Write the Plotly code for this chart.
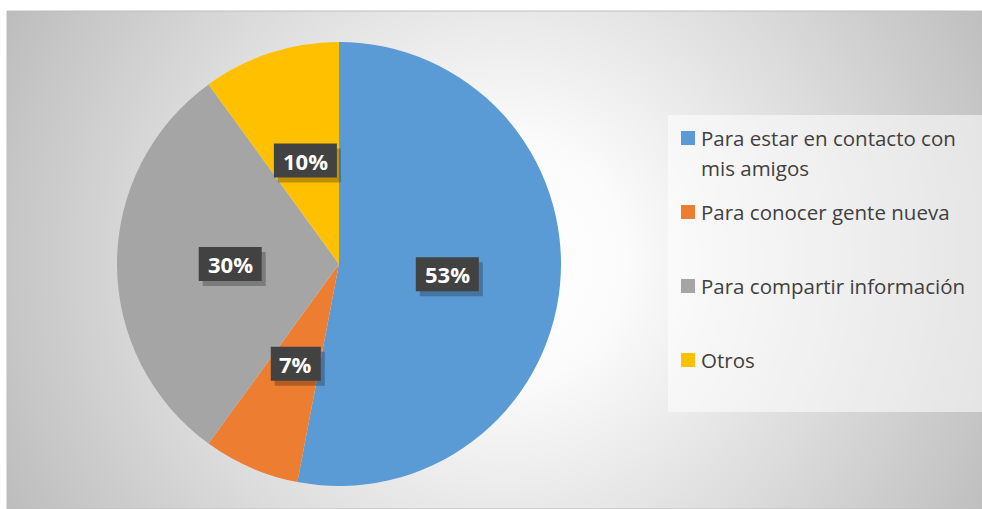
import base64
import math
import textwrap
import plotly.graph_objects as go

categories = ["Para estar en contacto con mis amigos", "Para conocer gente nueva",
              "Para compartir información", "Otros"]
values = [53, 7, 30, 10]
colors = ["#5B9BD5", "#ED7D31", "#A5A5A5", "#FFC000"]

W, H = 982, 509

# radial gradient background as SVG data uri
svg = f'''<svg xmlns="http://www.w3.org/2000/svg" width="{W}" height="{H}" viewBox="0 0 {W} {H}">
<defs><radialGradient id="g" gradientUnits="userSpaceOnUse" cx="500" cy="255" r="560">
<stop offset="0" stop-color="#ffffff"/><stop offset="0.22" stop-color="#fbfbfb"/>
<stop offset="1" stop-color="#bdbdbd"/></radialGradient></defs>
<rect x="0" y="0" width="{W}" height="{H}" fill="url(#g)"/></svg>'''
src = "data:image/svg+xml;base64," + base64.b64encode(svg.encode()).decode()

dom_x = [117 / W, 561 / W]
dom_y = [1 - 486 / H, 1 - 42 / H]

fig = go.Figure(go.Pie(
    labels=categories, values=values, sort=False, direction="clockwise", rotation=0,
    marker=dict(colors=colors, line=dict(width=0)),
    textinfo="none", hoverinfo="label+percent", showlegend=False,
    domain=dict(x=dom_x, y=dom_y),
))

# geometry of pie in pixels
cx = (dom_x[0] + dom_x[1]) / 2 * W
cy = (1 - (dom_y[0] + dom_y[1]) / 2) * H
r = min((dom_x[1] - dom_x[0]) * W, (dom_y[1] - dom_y[0]) * H) / 2
total = sum(values)

shapes = [
    dict(type="rect", xref="paper", yref="paper", x0=7 / W, x1=1, y0=0, y1=1 - 11 / H,
         line=dict(color="#bdbdbd", width=1), fillcolor="rgba(0,0,0,0)", layer="below"),
    dict(type="rect", xref="paper", yref="paper", x0=668 / W, x1=1, y0=1 - 412 / H, y1=1 - 115 / H,
         line=dict(width=0), fillcolor="rgba(255,255,255,0.55)", layer="below"),
]
annotations = []

cum = 0
for v in values:
    mid = (cum + v / 2) / total
    cum += v
    th = 2 * math.pi * mid
    d = 0.49 * r
    px = cx + d * math.sin(th)
    py = cy - d * math.cos(th)
    x, y = px / W, 1 - py / H
    t = f"{round(v / total * 100)}%"
    bw = 13 * len(t) + 24
    bh = 34
    # shadow
    shapes.append(dict(type="rect", xref="paper", yref="paper", xsizemode="pixel", ysizemode="pixel",
                       xanchor=x, yanchor=y, x0=-bw / 2 + 4, x1=bw / 2 + 4, y0=-bh / 2 - 5, y1=bh / 2 - 5,
                       line=dict(width=0), fillcolor="rgba(0,0,0,0.25)"))
    # box
    shapes.append(dict(type="rect", xref="paper", yref="paper", xsizemode="pixel", ysizemode="pixel",
                       xanchor=x, yanchor=y, x0=-bw / 2, x1=bw / 2, y0=-bh / 2, y1=bh / 2,
                       line=dict(width=0), fillcolor="#424242"))
    annotations.append(dict(x=x, y=y, xref="paper", yref="paper", text=f"<b>{t}</b>",
                            xanchor="center", yanchor="middle",
                            showarrow=False, font=dict(family="Open Sans", size=22, color="white")))

# custom legend
item_y = [138, 212, 286, 360]
for cat, col, iy in zip(categories, colors, item_y):
    shapes.append(dict(type="rect", xref="paper", yref="paper",
                       x0=681 / W, x1=695 / W, y0=1 - (iy + 7) / H, y1=1 - (iy - 7) / H,
                       line=dict(width=0), fillcolor=col))
    for k, line in enumerate(textwrap.wrap(cat, 26)):
        annotations.append(dict(x=699 / W, y=1 - (iy + 30 * k) / H, xref="paper", yref="paper",
                                xanchor="left", yanchor="middle", text=line, showarrow=False,
                                font=dict(family="Open Sans", size=20.5, color="#404040")))

fig.update_layout(
    width=W, height=H, margin=dict(l=0, r=0, t=0, b=0),
    paper_bgcolor="white", plot_bgcolor="white",
    images=[dict(source=src, xref="paper", yref="paper", x=7 / W, y=1 - 11 / H,
                 sizex=1 - 7 / W, sizey=1 - 11 / H, sizing="stretch", layer="below",
                 xanchor="left", yanchor="top")],
    shapes=shapes, annotations=annotations,
)

fig.write_html("out.html", config={"displayModeBar": False},
               post_script="document.body.style.margin='0';")
